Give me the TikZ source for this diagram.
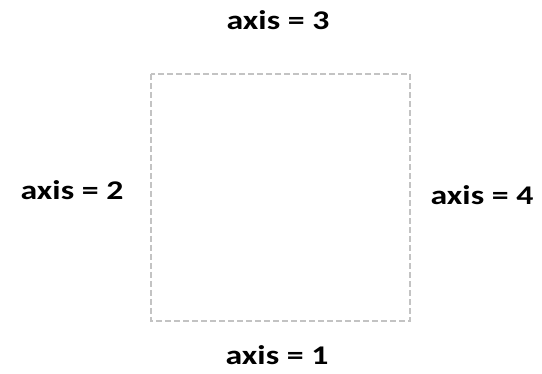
\documentclass[tikz,border=0pt]{standalone}
\usepackage{fontspec}
\setmainfont{Carlito}
\definecolor{boxgray}{RGB}{195,195,195}
\tikzset{
  axislabel/.style={anchor=base, inner sep=0pt, font=\fontsize{27}{30}\selectfont\bfseries},
  boxline/.style={draw=boxgray, line width=1.8pt, dash pattern=on 6pt off 3pt}
}
\newcommand{\wlab}[1]{\scalebox{1.25}[1]{#1}}
\begin{document}
\begin{tikzpicture}[x=1pt,y=-1pt]
\useasboundingbox (0,0) rectangle (542,374);
\draw[boxline] (151,74) rectangle (410,321);
\node[axislabel] (a3) at (278,30) {\wlab{axis = 3}};
\node[axislabel] (a2) at (72,200) {\wlab{axis = 2}};
\node[axislabel] (a4) at (482,205) {\wlab{axis = 4}};
\node[axislabel] (a1) at (277,365) {\wlab{axis = 1}};
\end{tikzpicture}
\end{document}
